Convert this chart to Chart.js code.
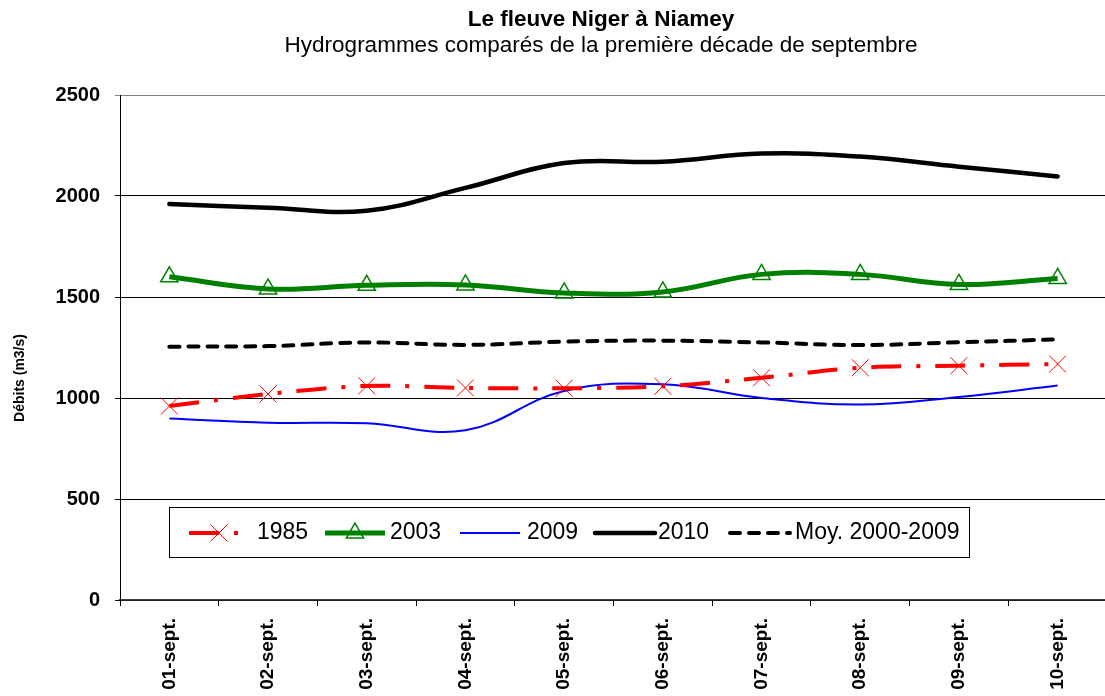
<!DOCTYPE html>
<html>
<head>
<meta charset="utf-8">
<script src="https://cdn.jsdelivr.net/npm/chart.js@4.4.1/dist/chart.umd.min.js"></script>
<style>
  html, body { margin: 0; padding: 0; background: #fff; overflow: hidden; width: 1105px; height: 696px; }
  #wrap { position: absolute; left: 0; top: 0; width: 1120px; height: 696px; }
</style>
</head>
<body>
<div id="wrap"><canvas id="chart" width="1120" height="696"></canvas></div>
<script>
  // Débits journaliers (m3/s), première décade de septembre
  const days = ['01-sept.', '02-sept.', '03-sept.', '04-sept.', '05-sept.', '06-sept.', '07-sept.', '08-sept.', '09-sept.', '10-sept.'];
  const q1985 = [960, 1020, 1060, 1050, 1048, 1058, 1100, 1150, 1160, 1168];
  const q2003 = [1600, 1540, 1558, 1560, 1520, 1525, 1612, 1612, 1562, 1592];
  const q2009 = [898, 878, 875, 840, 1035, 1068, 1000, 968, 1005, 1062];
  const q2010 = [1960, 1942, 1927, 2040, 2163, 2170, 2210, 2195, 2145, 2097];
  const qMoy = [1254, 1257, 1275, 1263, 1279, 1284, 1275, 1262, 1276, 1290];
  const seriesNames = ['1985', '2003', '2009', '2010', 'Moy. 2000-2009'];

  const FONT = '"Liberation Sans", Arial, sans-serif';

  // titles, y title and the boxed legend inside the plot
  const decorPlugin = {
    id: 'decor',
    afterDraw(chart) {
      const ctx = chart.ctx;
      ctx.save();
      ctx.fillStyle = '#000';
      ctx.textAlign = 'center';
      ctx.textBaseline = 'middle';
      ctx.font = 'bold 22.5px ' + FONT;
      ctx.fillText('Le fleuve Niger à Niamey', 601, 20);
      ctx.font = '22.5px ' + FONT;
      ctx.fillText('Hydrogrammes comparés de la première décade de septembre', 601, 46);

      ctx.translate(20, 378);
      ctx.rotate(-Math.PI / 2);
      ctx.font = 'bold 14px ' + FONT;
      ctx.fillText('Débits (m3/s)', 0, 0);
      ctx.restore();

      // legend box
      ctx.save();
      ctx.fillStyle = '#fff';
      ctx.fillRect(169.5, 507.5, 800, 50);
      ctx.strokeStyle = '#000';
      ctx.lineWidth = 1;
      ctx.strokeRect(169.5, 507.5, 800, 50);
      ctx.restore();

      const sampleX = [189, 325, 460, 595, 730];
      const textX = [257, 390, 527, 658, 795];
      const ly = 533;
      chart.data.datasets.forEach((ds, i) => {
        const x0 = sampleX[i], x1 = x0 + 60;
        ctx.save();
        ctx.strokeStyle = ds.borderColor;
        ctx.lineWidth = ds.borderWidth;
        ctx.setLineDash(ds.borderDash || []);
        ctx.lineCap = ds.borderCapStyle || 'butt';
        ctx.beginPath();
        ctx.moveTo(x0, ly);
        ctx.lineTo(x1, ly);
        ctx.stroke();
        ctx.restore();
        if (ds.pointRadius > 0) {
          ctx.save();
          ctx.strokeStyle = ds.pointBorderColor;
          ctx.fillStyle = 'rgba(0,0,0,0)';
          ctx.lineWidth = ds.pointBorderWidth;
          Chart.helpers.drawPoint(ctx, { pointStyle: ds.pointStyle, radius: ds.pointRadius, borderWidth: ds.pointBorderWidth, rotation: 0 }, (x0 + x1) / 2, ly);
          ctx.restore();
        }
        ctx.save();
        ctx.fillStyle = '#000';
        ctx.font = '23px ' + FONT;
        ctx.textAlign = 'left';
        ctx.textBaseline = 'middle';
        ctx.fillText(ds.label, textX[i], ly);
        ctx.restore();
      });
    }
  };

  new Chart(document.getElementById('chart'), {
    type: 'line',
    data: {
      labels: days,
      datasets: [
        {
          label: seriesNames[0], data: q1985,
          borderColor: '#ff0000', borderWidth: 4, borderDash: [30, 15, 4, 15],
          tension: 0.3, pointStyle: 'crossRot', pointRadius: 12,
          pointBorderColor: '#ff0000', pointBorderWidth: 1, pointBackgroundColor: 'rgba(0,0,0,0)'
        },
        {
          label: seriesNames[1], data: q2003,
          borderColor: '#008000', borderWidth: 5,
          tension: 0.4, pointStyle: 'triangle', pointRadius: 10,
          pointBorderColor: '#008000', pointBorderWidth: 1.5, pointBackgroundColor: 'rgba(0,0,0,0)'
        },
        {
          label: seriesNames[2], data: q2009,
          borderColor: '#0000ff', borderWidth: 2,
          tension: 0.4, pointRadius: 0
        },
        {
          label: seriesNames[3], data: q2010,
          borderColor: '#000000', borderWidth: 4.5, borderCapStyle: 'round',
          tension: 0.4, pointRadius: 0
        },
        {
          label: seriesNames[4], data: qMoy,
          borderColor: '#000000', borderWidth: 4, borderDash: [10, 9], borderCapStyle: 'round',
          tension: 0.4, pointRadius: 0
        }
      ]
    },
    options: {
      responsive: false,
      animation: false,
      devicePixelRatio: 1,
      layout: { padding: { top: 95, right: 5, left: 0, bottom: 0 } },
      plugins: {
        legend: { display: false },
        title: { display: false },
        tooltip: { enabled: false }
      },
      scales: {
        x: {
          offset: true,
          grid: { offset: true, drawOnChartArea: false, drawTicks: true, tickLength: 6, color: '#000' },
          border: { color: '#404040', width: 1.5 },
          ticks: {
            color: '#000', maxRotation: 90, minRotation: 90, padding: 12,
            font: { family: FONT, size: 19, weight: 'bold' }
          },
          afterFit(scale) { scale.height = 96; }
        },
        y: {
          min: 0, max: 2500,
          grid: {
            color: (c) => (c.tick && c.tick.value === 2500 ? '#808080' : '#000'),
            lineWidth: 1, tickLength: 5
          },
          border: { color: '#000', width: 1 },
          ticks: {
            stepSize: 500, color: '#000', padding: 15,
            font: { family: FONT, size: 20, weight: 'bold' },
            callback: (v) => String(v)
          },
          afterFit(scale) { scale.width = 120; }
        }
      }
    },
    plugins: [decorPlugin]
  });
</script>
</body>
</html>
